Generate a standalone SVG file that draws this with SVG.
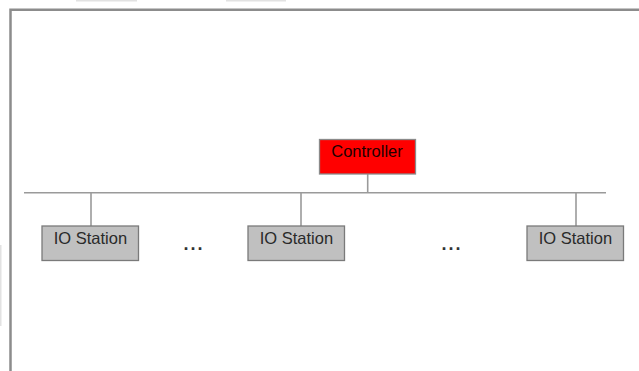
<svg xmlns="http://www.w3.org/2000/svg" width="639" height="371" viewBox="0 0 639 371">
<style>
.frame{stroke:#8c8c8c;stroke-width:2.5;fill:none}
.faint{fill:#e2e2e2}
.wire{stroke:#9a9a9a;stroke-width:1.6;fill:none}
.io{fill:#c0c0c0;stroke:#7a7a7a;stroke-width:1.3}
.ctl{fill:#ff0000;stroke:#8a8a8a;stroke-width:1.3}
.lbl{font-family:"Liberation Sans",Arial,sans-serif;font-size:16.5px;text-anchor:middle;fill:#2a2a2a}
.dots{font-family:"Liberation Sans",Arial,sans-serif;font-size:18px;font-weight:bold;text-anchor:middle;fill:#333;letter-spacing:2px}
</style>
<rect width="639" height="371" fill="#ffffff"/>
<rect class="faint" x="76" y="0" width="61" height="1.5"/>
<rect class="faint" x="226" y="0" width="60" height="1.5"/>
<rect class="faint" x="0" y="245" width="1.5" height="81"/>
<path class="frame" d="M10.5 371 V9.8 H639"/>
<g id="connectors">
<line class="wire" x1="24" y1="192.8" x2="606" y2="192.8"/>
<line class="wire" x1="367.7" y1="174" x2="367.7" y2="192.8"/>
<line class="wire" x1="91" y1="192.8" x2="91" y2="226"/>
<line class="wire" x1="301" y1="192.8" x2="301" y2="226"/>
<line class="wire" x1="576" y1="192.8" x2="576" y2="226"/>
</g>
<g id="controller">
<rect class="ctl" x="319.5" y="139.5" width="96" height="34.5"/>
<text class="lbl" x="367" y="156.7" fill="#200000" style="fill:#200000">Controller</text>
</g>
<g id="io1">
<rect class="io" x="42" y="226" width="96.5" height="34.5"/>
<text class="lbl" x="90.4" y="244.3">IO Station</text>
</g>
<g id="io2">
<rect class="io" x="248" y="226" width="96.5" height="34.5"/>
<text class="lbl" x="296.4" y="244.3">IO Station</text>
</g>
<g id="io3">
<rect class="io" x="527" y="226" width="96.5" height="34.5"/>
<text class="lbl" x="575.4" y="244.3">IO Station</text>
</g>
<g id="dots1"><text class="dots" x="194" y="249.8">...</text></g>
<g id="dots2"><text class="dots" x="452" y="249.8">...</text></g>
</svg>
